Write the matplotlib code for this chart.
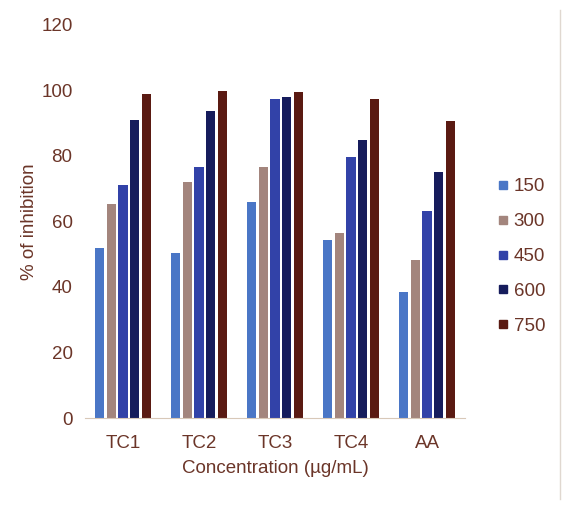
import numpy as np
import matplotlib
matplotlib.use("Agg")
import matplotlib.pyplot as plt
from matplotlib.lines import Line2D

plt.rcParams['font.family'] = ['Liberation Sans', 'DejaVu Sans']

# data
samples = ["TC1", "TC2", "TC3", "TC4", "AA"]
conc_labels = ["150", "300", "450", "600", "750"]
c150 = [51.8, 50.3, 65.9, 54.3, 38.4]
c300 = [65.2, 72.0, 76.5, 56.4, 48.2]
c450 = [71.0, 76.5, 97.3, 79.6, 63.1]
c600 = [90.9, 93.6, 97.9, 85.0, 75.0]
c750 = [98.8, 99.7, 99.5, 97.3, 90.5]

series = [c150, c300, c450, c600, c750]
colors = ["#4a76c6", "#a3857d", "#3242a8", "#161c5c", "#5a1a12"]
text_col = "#6b3528"

fig = plt.figure(figsize=(5.63, 5.07), dpi=100)
ax = fig.add_axes([0.151, 0.1755, 0.675, 0.7755])

x = np.arange(len(samples))
w = 0.12
step = 0.155
for i, (vals, col) in enumerate(zip(series, colors)):
    ax.bar(x + (i - 2) * step, vals, width=w, color=col, label=conc_labels[i])

ax.set_xlim(-0.5, 4.5)
ax.set_ylim(0, 120)
ax.set_yticks(range(0, 121, 20))
ax.set_xticks(x)
ax.set_xticklabels(samples)
ax.tick_params(axis='both', length=0, labelsize=13.5, labelcolor=text_col)
ax.tick_params(axis='y', pad=9)
ax.tick_params(axis='x', pad=12)

for s in ['top', 'right', 'left']:
    ax.spines[s].set_visible(False)
ax.spines['bottom'].set_color("#d8c8b8")
ax.spines['bottom'].set_linewidth(0.8)

ax.set_ylabel("% of inhibition", fontsize=13.5, color=text_col, labelpad=2)
ax.set_xlabel("Concentration (\u00b5g/mL)", fontsize=13.5, color=text_col, labelpad=6)

handles = [Line2D([0], [0], marker='s', linestyle='', markersize=6,
                  markerfacecolor=c, markeredgecolor=c) for c in colors]
fig.legend(handles, conc_labels, loc='center left', bbox_to_anchor=(0.851, 0.494),
           frameon=False, fontsize=13.5, labelcolor=text_col, handletextpad=0.15,
           labelspacing=0.95, handlelength=0.8)

# thin frame line on the right edge
fig.add_artist(Line2D([0.995, 0.995], [0.015, 0.98], transform=fig.transFigure,
                      color="#e0d8d0", linewidth=1))

fig.savefig("out.png", dpi=100)
